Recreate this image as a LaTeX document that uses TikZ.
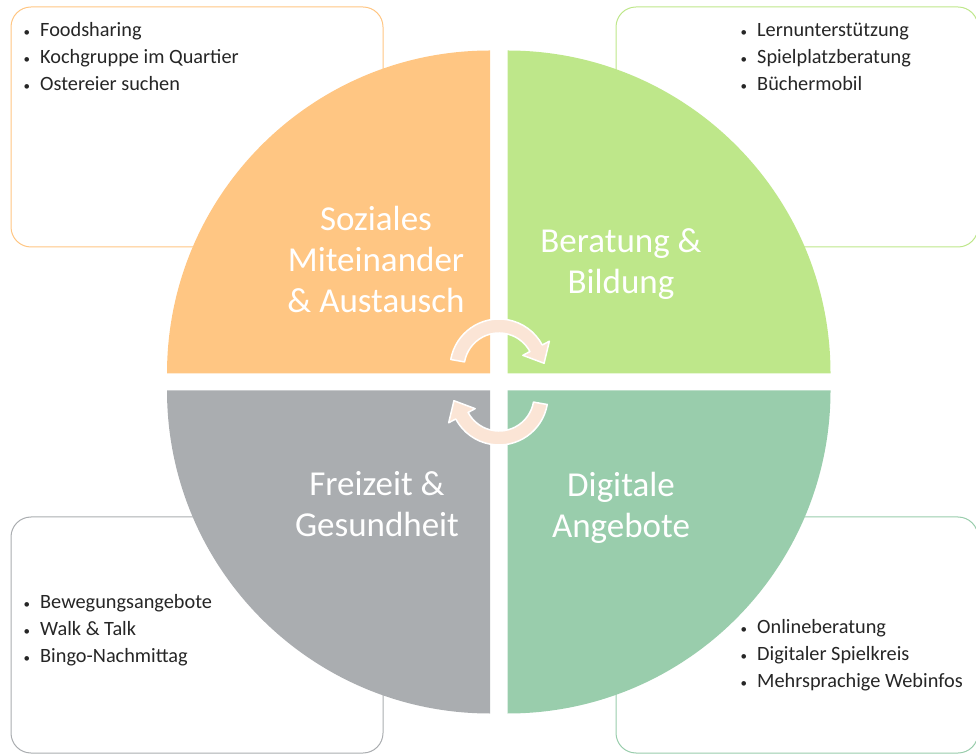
\documentclass[tikz,border=0pt]{standalone}
\usepackage{fontspec}
\setmainfont{Carlito}
\usepackage{tikz}
\usetikzlibrary{calc}

\definecolor{sozcol}{HTML}{FFC683}
\definecolor{bercol}{HTML}{BEE78A}
\definecolor{frecol}{HTML}{AAADB0}
\definecolor{digcol}{HTML}{99CDAC}
\definecolor{arrcol}{HTML}{FBE5D6}
\definecolor{txtcol}{HTML}{262626}

\newcommand{\bulletmark}{\llap{{\fontsize{13}{13}\selectfont•}\hspace{10pt}}}

\tikzset{
  listbox/.style={rounded corners=20pt, line width=1pt, fill=white},
  item/.style={anchor=base west, inner sep=0pt, text=txtcol, font=\fontsize{20.3}{27}\selectfont},
  quadtext/.style={align=center, inner sep=0pt, text=white, font=\fontsize{35}{41}\selectfont},
  cycarrow/.style={fill=arrcol, draw=white, line width=1.5pt, line join=round}
}

\begin{document}
\begin{tikzpicture}[x=1pt,y=1pt]
\useasboundingbox (0,0) rectangle (976,755);

\draw [listbox, draw=sozcol] (11,748) rectangle (383,508);
\draw [listbox, draw=bercol] (616,748) rectangle (978,508);
\draw [listbox, draw=frecol] (11,238) rectangle (383,2);
\draw [listbox, draw=digcol] (616,238) rectangle (978,2);

\foreach \t [count=\i] in {Foodsharing, Kochgruppe im Quartier, Ostereier suchen}
  \node [item] (SOZ\i) at (40,745-27*\i) {\bulletmark\t};
\foreach \t [count=\i] in {Lernunterstützung, Spielplatzberatung, Büchermobil}
  \node [item] (BER\i) at (757,745-27*\i) {\bulletmark\t};
\foreach \t [count=\i] in {Bewegungsangebote, Walk \& Talk, Bingo-Nachmittag}
  \node [item] (FRE\i) at (40,174-27*\i) {\bulletmark\t};
\foreach \t [count=\i] in {Onlineberatung, Digitaler Spielkreis, Mehrsprachige Webinfos}
  \node [item] (DIG\i) at (757,149-27*\i) {\bulletmark\t};

\fill [sozcol] (490,381.5) -- ++(180:323pt) arc [start angle=180, end angle=90, radius=323pt] -- cycle;
\fill [bercol] (507.5,381.5) -- ++(90:323pt) arc [start angle=90, end angle=0, radius=323pt] -- cycle;
\fill [frecol] (490,364.5) -- ++(270:323pt) arc [start angle=270, end angle=180, radius=323pt] -- cycle;
\fill [digcol] (507.5,364.5) -- ++(0:323pt) arc [start angle=0, end angle=-90, radius=323pt] -- cycle;

\node [quadtext] (SOZIAL) at (376,496) {Soziales\\Miteinander\\\& Austausch};
\node [quadtext] (BERATUNG) at (621,491) {Beratung \&\\Bildung};
\node [quadtext] (FREIZEIT) at (377,251) {Freizeit \&\\Gesundheit};
\node [quadtext] (DIGITAL) at (621,247.5) {Digitale\\Angebote};

\coordinate (TOP) at (499,387);
\coordinate (BOT) at (499,359);
\path [cycarrow] ($(TOP)+(170:49pt)$) arc [start angle=170, end angle=28, radius=49pt]
  -- ($(TOP)+(28:57pt)$) -- ($(TOP)+(28:42pt)+(-62:17pt)$) -- ($(TOP)+(28:27pt)$)
  -- ($(TOP)+(28:35pt)$) arc [start angle=28, end angle=170, radius=35pt] -- cycle;
\path [cycarrow] ($(BOT)+(350:49pt)$) arc [start angle=350, end angle=208, radius=49pt]
  -- ($(BOT)+(208:57pt)$) -- ($(BOT)+(208:42pt)+(118:17pt)$) -- ($(BOT)+(208:27pt)$)
  -- ($(BOT)+(208:35pt)$) arc [start angle=208, end angle=350, radius=35pt] -- cycle;
\end{tikzpicture}
\end{document}
